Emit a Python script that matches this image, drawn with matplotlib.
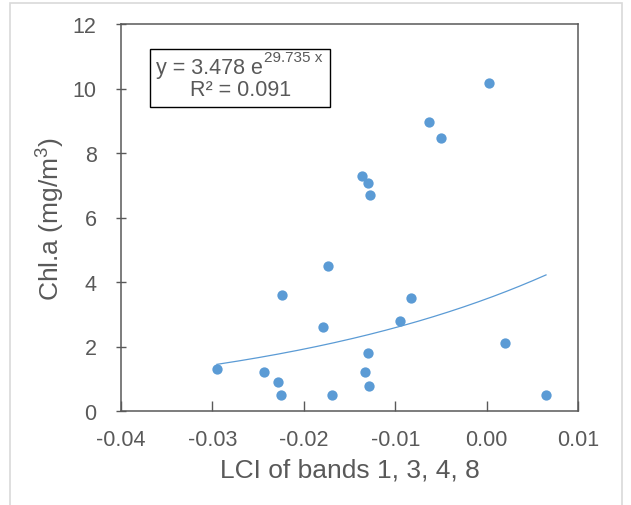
import matplotlib
matplotlib.use('Agg')
import matplotlib.pyplot as plt
import numpy as np
from matplotlib.patches import Rectangle

plt.rcParams['font.family'] = ['Liberation Sans', 'DejaVu Sans']
plt.rcParams['mathtext.fontset'] = 'custom'
plt.rcParams['mathtext.rm'] = 'Liberation Sans'

# LCI values and Chl.a values
lci = [-0.0295, -0.0244, -0.0228, -0.0225, -0.0224, -0.0179, -0.0174, -0.0169,
       -0.0136, -0.0130, -0.0128, -0.0130, -0.0133, -0.0129, -0.0095, -0.0083,
       -0.0063, -0.0050, 0.0003, 0.0020, 0.0065]
chla = [1.30, 1.20, 0.89, 0.51, 3.60, 2.60, 4.49, 0.50,
        7.28, 7.08, 6.69, 1.79, 1.20, 0.79, 2.79, 3.49,
        8.97, 8.47, 10.17, 2.10, 0.50]

# exponential trendline y = a * exp(b x)
a_coef = 3.478
b_coef = 29.735
r2 = 0.091

xticks = [-0.04, -0.03, -0.02, -0.01, 0.00, 0.01]
yticks = [0, 2, 4, 6, 8, 10, 12]

grey = '#595959'
blue = '#5B9BD5'

fig = plt.figure(figsize=(6.31, 5.06), dpi=100)
fig.patches.append(Rectangle((10 / 631, -0.05), 612 / 631, 1 - 4 / 506 + 0.05,
                             transform=fig.transFigure, fill=False,
                             edgecolor='#D9D9D9', lw=1.2))
ax = fig.add_axes([121 / 631, 1 - 412 / 506, 457 / 631, 387 / 506])

ax.scatter(lci, chla, s=55, color=blue, zorder=3, linewidths=0)
xs = np.linspace(min(lci), max(lci), 200)
ax.plot(xs, a_coef * np.exp(b_coef * xs), color=blue, lw=0.9, zorder=2)

ax.set_xlim(-0.04, 0.01)
ax.set_ylim(0, 12)
ax.set_xticks(xticks)
ax.set_xticklabels(['%.2f' % t for t in xticks])
ax.set_yticks(yticks)
ax.tick_params(axis='both', labelsize=15.5, colors=grey,
               labelcolor=grey, width=1)
ax.tick_params(axis='x', direction='in', length=7, pad=13)
ax.tick_params(axis='y', direction='inout', length=7, pad=14)
for sp in ax.spines.values():
    sp.set_color(grey)
    sp.set_linewidth(1.1)

ax.set_xlabel('LCI of bands 1, 3, 4, 8', fontsize=19, color=grey)
ax.set_ylabel('Chl.a (mg/m$^\\mathrm{3}$)', fontsize=19, color=grey)
ax.xaxis.set_label_coords(0.5, -0.12)
ax.yaxis.set_label_coords(-0.12, 0.5)

# trendline equation box
ax.add_patch(Rectangle((0.0635, 0.7855), 0.394, 0.15, transform=ax.transAxes,
                       facecolor='white', edgecolor='black', lw=1, zorder=4))
t1 = ax.text(0.0766, 0.8734, 'y = %.3f e' % a_coef, transform=ax.transAxes,
             ha='left', va='baseline', fontsize=15.5, color=grey, zorder=5)
ax.annotate('%.3f x' % b_coef, xy=(1, 0.9044), xycoords=(t1, 'axes fraction'),
            xytext=(0.5, 0), textcoords='offset points', ha='left',
            va='baseline', fontsize=11, color=grey, zorder=5)
ax.text(0.2615, 0.8165, 'R² = %.3f' % r2, transform=ax.transAxes,
        ha='center', va='baseline', fontsize=15.5, color=grey, zorder=5)

fig.savefig('out.png', dpi=100)
